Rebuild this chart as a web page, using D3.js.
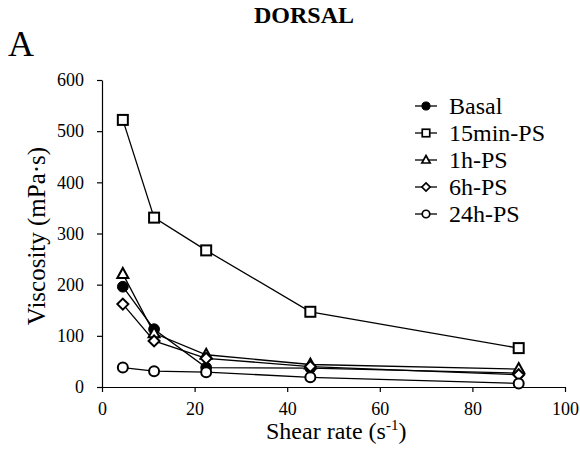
<!DOCTYPE html>
<html>
<head>
<meta charset="utf-8">
<script src="https://cdn.jsdelivr.net/npm/d3@7"></script>
<style>
body{margin:0;background:#fff;}
svg{display:block;font-family:"Liberation Serif",serif;}
text{font-family:"Liberation Serif",serif !important;fill:#000;}
</style>
</head>
<body>
<svg id="chart" width="580" height="450"></svg>
<script>
const shearRates = [4.5, 11.25, 22.5, 45, 90];
const seriesNames = ["Basal", "15min-PS", "1h-PS", "6h-PS", "24h-PS"];
const basal = [196, 113, 38, 37, 27];
const min15PS = [522, 331, 267, 147, 76];
const h1PS = [221, 105, 63, 44, 35];
const h6PS = [162, 90, 56, 40, 24];
const h24PS = [38, 31, 29, 19, 7];
const xTicks = [0, 20, 40, 60, 80, 100];
const yTicks = [0, 100, 200, 300, 400, 500, 600];
const symbols = ["filledCircle", "square", "triangle", "diamond", "circle"];

const series = [basal, min15PS, h1PS, h6PS, h24PS].map((v, i) => ({name: seriesNames[i], values: v, sym: symbols[i]}));

const svg = d3.select("#chart");
const x = d3.scaleLinear().domain([0, 100]).range([102, 565]);
const y = d3.scaleLinear().domain([0, 600]).range([387, 80]);

const xAxis = svg.append("g").attr("transform", "translate(0,387)")
  .call(d3.axisBottom(x).tickValues(xTicks).tickSize(5).tickSizeOuter(0).tickPadding(10));
const yAxis = svg.append("g").attr("transform", "translate(102,0)")
  .call(d3.axisLeft(y).tickValues(yTicks).tickSize(5).tickSizeOuter(0).tickPadding(13));
[xAxis, yAxis].forEach(a => {
  a.attr("font-family", "Liberation Serif").attr("font-size", 18);
  a.selectAll("path,line").attr("stroke", "#000").attr("stroke-width", 1.2);
  a.selectAll("text").attr("font-family", "Liberation Serif").style("font-size", "18px").attr("fill", "#000");
});

function drawSymbol(g, sym, cx, cy, k) {
  const sw = 2 * Math.min(1, k + 0.1);
  if (sym === "filledCircle") {
    g.append("circle").attr("cx", cx).attr("cy", cy).attr("r", 5.4 * k).attr("fill", "#000").attr("stroke", "#000");
  } else if (sym === "circle") {
    g.append("circle").attr("cx", cx).attr("cy", cy).attr("r", 5 * k).attr("fill", "#fff").attr("stroke", "#000").attr("stroke-width", sw);
  } else if (sym === "square") {
    g.append("rect").attr("x", cx - 5 * k).attr("y", cy - 5 * k).attr("width", 10 * k).attr("height", 10 * k).attr("fill", "#fff").attr("stroke", "#000").attr("stroke-width", sw);
  } else if (sym === "triangle") {
    g.append("path").attr("d", `M${cx},${cy - 6 * k}L${cx + 5.5 * k},${cy + 4 * k}L${cx - 5.5 * k},${cy + 4 * k}Z`).attr("fill", "#fff").attr("stroke", "#000").attr("stroke-width", sw);
  } else if (sym === "diamond") {
    g.append("path").attr("d", `M${cx},${cy - 5.5 * k}L${cx + 5.5 * k},${cy}L${cx},${cy + 5.5 * k}L${cx - 5.5 * k},${cy}Z`).attr("fill", "#fff").attr("stroke", "#000").attr("stroke-width", sw);
  }
}

const line = d3.line().x((d, i) => x(shearRates[i])).y(d => y(d));
const plot = svg.append("g");
series.forEach(s => {
  plot.append("path").attr("d", line(s.values)).attr("fill", "none").attr("stroke", "#000").attr("stroke-width", 1.3);
});
series.forEach(s => {
  const g = plot.append("g");
  s.values.forEach((v, i) => drawSymbol(g, s.sym, x(shearRates[i]), y(v), 1));
});

const legend = svg.append("g");
series.forEach((s, i) => {
  const ly = 106 + i * 27;
  legend.append("line").attr("x1", 415).attr("x2", 437).attr("y1", ly).attr("y2", ly).attr("stroke", "#000").attr("stroke-width", 1.3);
  drawSymbol(legend, s.sym, 426, ly, 0.75);
  legend.append("text").attr("x", 449).attr("y", ly + 8).style("font-size", "24px").text(s.name);
});

svg.append("text").attr("x", 304).attr("y", 23).attr("text-anchor", "middle").style("font-size", "24px").style("font-weight", "bold").text("DORSAL");
svg.append("text").attr("x", 8).attr("y", 56).style("font-size", "36px").text("A");

const xl = svg.append("text").attr("x", 266).attr("y", 439).style("font-size", "24px");
xl.append("tspan").text("Shear rate (s");
xl.append("tspan").style("font-size", "15px").attr("dy", -9).text("-1");
xl.append("tspan").attr("dy", 9).text(")");

svg.append("text").attr("transform", "translate(45,236) rotate(-90)").attr("text-anchor", "middle").style("font-size", "25px").text("Viscosity (mPa·s)");
</script>
</body>
</html>
